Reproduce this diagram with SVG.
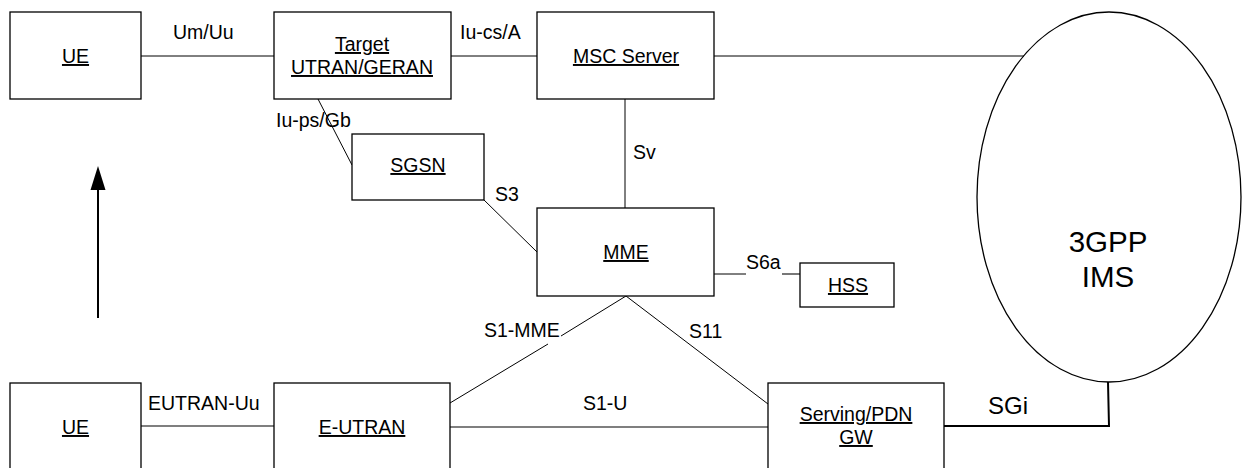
<svg xmlns="http://www.w3.org/2000/svg" width="1242" height="468" viewBox="0 0 1242 468">
<style>
.box{fill:#fff;stroke:#000;stroke-width:1.3}
.t{font-family:"Liberation Sans",Arial,sans-serif;font-size:19.5px;fill:#000}
.n{text-anchor:middle;text-decoration:underline}
.ln{stroke:#000;stroke-width:1;fill:none}
.gl{stroke:#555;stroke-width:1.6;fill:none}
</style>
<rect width="1242" height="468" fill="#fff"/>
<g id="connectors">
<line class="ln" x1="141" y1="56" x2="274" y2="56"/>
<line class="ln" x1="451" y1="56" x2="537" y2="56"/>
<line class="ln" x1="714" y1="56" x2="1024" y2="56"/>
<line class="ln" x1="318" y1="99" x2="352" y2="165"/>
<line class="ln" x1="625" y1="99" x2="625" y2="208"/>
<line class="ln" x1="483" y1="199" x2="537" y2="252"/>
<line class="ln" x1="714" y1="274" x2="746" y2="274"/>
<line class="gl" x1="782" y1="274" x2="800" y2="274"/>
<line class="ln" x1="626" y1="296" x2="561" y2="336"/>
<line class="ln" x1="548" y1="344" x2="450" y2="403"/>
<line class="ln" x1="626" y1="296" x2="768" y2="404"/>
<line class="gl" x1="141" y1="426" x2="274" y2="426"/>
<line class="gl" x1="450" y1="427" x2="768" y2="427"/>
<polyline fill="none" stroke="#000" stroke-width="2" points="1108,382 1109,426 944,426"/>
<line stroke="#000" stroke-width="2" x1="98" y1="318" x2="98" y2="186"/>
<polygon points="98,166 90.5,190 105.5,190" fill="#000"/>
<text class="t" x="173" y="39">Um/Uu</text>
<text class="t" x="460" y="39">Iu-cs/A</text>
<text class="t" x="276" y="127">Iu-ps/Gb</text>
<text class="t" x="633" y="159">Sv</text>
<text class="t" x="495" y="201">S3</text>
<text class="t" x="746" y="269">S6a</text>
<text class="t" x="484" y="337">S1-MME</text>
<text class="t" x="689" y="338">S11</text>
<text class="t" x="583" y="410">S1-U</text>
<text class="t" x="148" y="410">EUTRAN-Uu</text>
<text class="t" x="988" y="414" style="font-size:24px">SGi</text>
</g>
<g id="ue-top"><rect class="box" x="10" y="12" width="131" height="87"/><text class="t n" x="75.5" y="63">UE</text></g>
<g id="target"><rect class="box" x="274" y="12" width="177" height="87"/><text class="t n" x="362" y="51">Target</text><text class="t n" x="362" y="74">UTRAN/GERAN</text></g>
<g id="msc"><rect class="box" x="537" y="12" width="177" height="87"/><text class="t n" x="626" y="63">MSC Server</text></g>
<g id="sgsn"><rect class="box" x="352" y="134" width="132" height="66"/><text class="t n" x="418" y="172">SGSN</text></g>
<g id="mme"><rect class="box" x="537" y="208" width="177" height="88"/><text class="t n" x="626" y="259">MME</text></g>
<g id="hss"><rect class="box" x="800" y="263" width="94" height="44"/><text class="t n" x="848" y="292">HSS</text></g>
<g id="ims"><ellipse cx="1109" cy="197" rx="132" ry="185" fill="none" stroke="#000" stroke-width="1.3"/><text class="t" x="1108" y="252" text-anchor="middle" style="font-size:29.5px">3GPP</text><text class="t" x="1108" y="287" text-anchor="middle" style="font-size:29.5px">IMS</text></g>
<g id="ue-bottom"><rect class="box" x="10" y="383" width="131" height="95"/><text class="t n" x="75.5" y="434">UE</text></g>
<g id="eutran"><rect class="box" x="274" y="383" width="176" height="95"/><text class="t n" x="362" y="434">E-UTRAN</text></g>
<g id="gw"><rect class="box" x="768" y="383" width="176" height="95"/><text class="t n" x="856" y="421">Serving/PDN</text><text class="t n" x="856" y="444">GW</text></g>
</svg>
